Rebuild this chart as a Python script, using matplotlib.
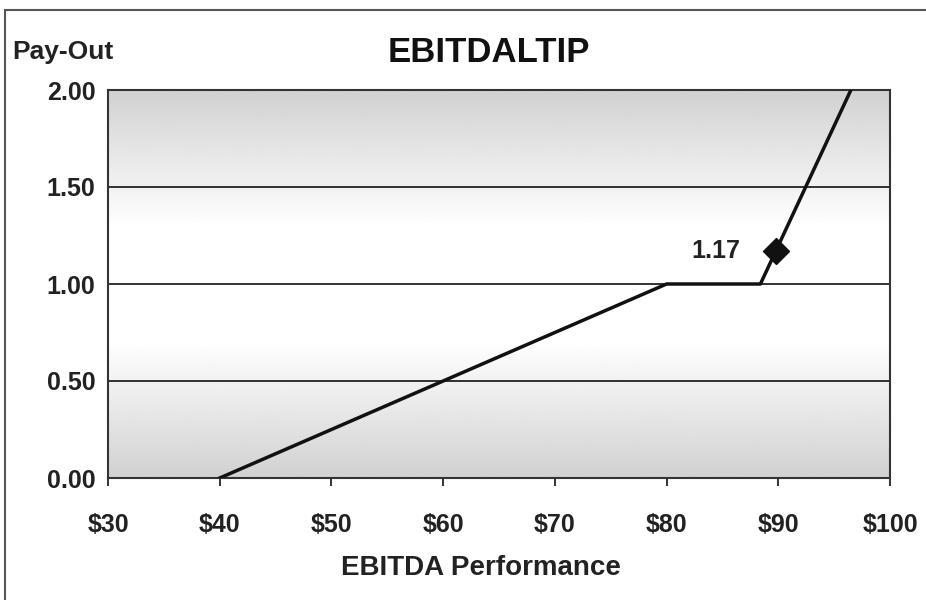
import numpy as np
import matplotlib.pyplot as plt
from matplotlib.patches import Rectangle

plt.rcParams['font.family'] = ['Liberation Sans', 'DejaVu Sans']

# payout curve (EBITDA $ vs pay-out multiple)
perf = [40, 80, 88.4, 96.5]
payout = [0.0, 1.0, 1.0, 2.0]
actual_perf = 89.8
actual_payout = 1.17

x_ticks = [30, 40, 50, 60, 70, 80, 90, 100]
y_ticks = [0.0, 0.5, 1.0, 1.5, 2.0]

fig = plt.figure(figsize=(9.26, 6.0), dpi=100)
ax = fig.add_axes([108 / 926, 1 - 478 / 600, (890 - 108) / 926, (478 - 90) / 600])

# outer chart frame
fig.patches.append(Rectangle((5 / 926, -0.01), 1.0, 1 - 10 / 600 + 0.01,
                             transform=fig.transFigure, fill=False,
                             edgecolor='#555555', linewidth=1.5))

# grey-white-grey background gradient
yy = np.linspace(0, 2, 400)
shade = np.clip(np.abs(yy - 1.0) - 0.3, 0, None) / 0.7
vals = 1.0 - 0.18 * shade
grad = np.repeat(vals[:, None], 2, axis=1)
ax.imshow(grad, extent=[30, 100, 0, 2], origin='lower', aspect='auto',
          cmap='gray', vmin=0, vmax=1, zorder=0, interpolation='bilinear')

for y in y_ticks[1:-1]:
    ax.axhline(y, color='#222222', linewidth=1.3, zorder=1)

ax.plot(perf, payout, color='#111111', linewidth=2.5, zorder=3)
ax.plot([actual_perf], [actual_payout], marker='D', markersize=13,
        color='#111111', zorder=4)
ax.annotate(f'{actual_payout:.2f}', (actual_perf, actual_payout),
            xytext=(-26, 0), textcoords='offset points', ha='right',
            va='center', fontsize=18, fontweight='bold', color='#222222')

ax.set_xlim(30, 100)
ax.set_ylim(0, 2)
ax.set_xticks(x_ticks)
ax.set_xticklabels([f'${v}' for v in x_ticks])
ax.set_yticks(y_ticks)
ax.set_yticklabels([f'{v:.2f}' for v in y_ticks])
ax.tick_params(axis='x', direction='out', length=6, width=1.3, pad=19,
               labelsize=18, colors='#222222')
ax.tick_params(axis='y', length=0, pad=9, labelsize=18, colors='#222222')
for lbl in ax.get_xticklabels() + ax.get_yticklabels():
    lbl.set_fontweight('bold')
for s in ax.spines.values():
    s.set_color('#333333')
    s.set_linewidth(1.5)

fig.text(481 / 926, 1 - 568 / 600, 'EBITDA Performance', fontsize=20,
         fontweight='bold', color='#222222', va='center', ha='center')
fig.text(12 / 926, 1 - 52 / 600, 'Pay-Out', fontsize=19, fontweight='bold',
         color='#222222', va='center', ha='left')
fig.text(489 / 926, 1 - 52 / 600, 'EBITDALTIP', fontsize=25, fontweight='bold',
         color='#111111', va='center', ha='center')

fig.savefig('out.png', dpi=100)
